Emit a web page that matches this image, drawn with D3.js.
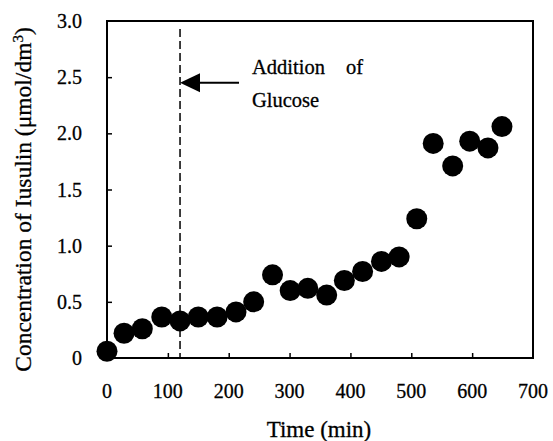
<!DOCTYPE html>
<html>
<head>
<meta charset="utf-8">
<script src="https://cdn.jsdelivr.net/npm/d3@7"></script>
<style>
  body { margin: 0; background: #fff; }
  svg { display: block; }
</style>
</head>
<body>
<svg id="chart" width="553" height="441"></svg>
<script>
var times = [0, 28, 58, 90, 120, 150, 181, 212, 241, 272, 301, 330, 361, 390, 420, 451, 480, 509, 536, 568, 596, 626, 649];
var insulin = [0.06, 0.22, 0.26, 0.365, 0.33, 0.365, 0.365, 0.41, 0.50, 0.74, 0.60, 0.62, 0.56, 0.69, 0.77, 0.86, 0.90, 1.24, 1.91, 1.71, 1.93, 1.87, 2.06];
var xTicks = [0, 100, 200, 300, 400, 500, 600, 700];
var yTicks = [0, 0.5, 1.0, 1.5, 2.0, 2.5, 3.0];
var glucoseTime = 120;
var arrowLevel = 2.45;

var margin = {top: 21, right: 20, bottom: 83, left: 107},
    width = 553 - margin.left - margin.right,
    height = 441 - margin.top - margin.bottom;

var font = "'Liberation Serif', 'Times New Roman', serif";

var x = d3.scaleLinear().domain([0, 700]).range([0, width]);
var y = d3.scaleLinear().domain([0, 3]).range([height, 0]);

var svg = d3.select("#chart");
var g = svg.append("g")
    .attr("transform", "translate(" + margin.left + "," + margin.top + ")");

// inward ticks, labels drawn separately
var xAxis = d3.axisTop(x).tickValues(xTicks.slice(1, -1)).tickSize(5).tickFormat("");
var yAxis = d3.axisRight(y).tickValues(yTicks.slice(1, -1)).tickSize(5).tickFormat("");

g.append("g")
    .attr("transform", "translate(0," + height + ")")
    .call(xAxis)
    .call(function(s){ s.select(".domain").remove(); s.selectAll("line").attr("stroke", "#000").attr("stroke-width", 1.5); });

g.append("g")
    .call(yAxis)
    .call(function(s){ s.select(".domain").remove(); s.selectAll("line").attr("stroke", "#000").attr("stroke-width", 1.5); });

// frame
g.append("rect")
    .attr("x", 0).attr("y", 0)
    .attr("width", width).attr("height", height)
    .attr("fill", "none")
    .attr("stroke", "#000")
    .attr("stroke-width", 2);

// tick labels
g.selectAll(".xlab")
  .data(xTicks)
  .enter().append("text")
    .attr("class", "xlab")
    .attr("x", function(d){ return x(d); })
    .attr("y", height + 40)
    .attr("text-anchor", "middle")
    .attr("font-family", font)
    .attr("font-size", "20px")
    .attr("stroke", "#000").attr("stroke-width", 0.3)
    .text(function(d){ return d; });

g.selectAll(".ylab")
  .data(yTicks)
  .enter().append("text")
    .attr("class", "ylab")
    .attr("x", -25)
    .attr("y", function(d){ return y(d); })
    .attr("dy", "0.35em")
    .attr("text-anchor", "end")
    .attr("font-family", font)
    .attr("font-size", "20px")
    .attr("stroke", "#000").attr("stroke-width", 0.3)
    .text(function(d){ return d === 0 ? "0" : d.toFixed(1); });

// axis titles
g.append("text")
    .attr("x", width / 2 - 1)
    .attr("y", height + 79)
    .attr("text-anchor", "middle")
    .attr("font-family", font)
    .attr("font-size", "23px")
    .attr("stroke", "#000").attr("stroke-width", 0.3)
    .text("Time (min)");

var yt = svg.append("text")
    .attr("transform", "translate(31," + (margin.top + height / 2 + 10) + ") rotate(-90)")
    .attr("text-anchor", "middle")
    .attr("font-family", font)
    .attr("font-size", "23.5px")
    .attr("stroke", "#000").attr("stroke-width", 0.3);
yt.append("tspan").text("Concentration of Iusulin (\u03bcmol/dm");
yt.append("tspan").attr("baseline-shift", "super").attr("font-size", "15px").text("3");
yt.append("tspan").text(")");

// glucose addition marker
g.append("line")
    .attr("x1", x(glucoseTime)).attr("x2", x(glucoseTime))
    .attr("y1", 8).attr("y2", height)
    .attr("stroke", "#000")
    .attr("stroke-width", 1.5)
    .attr("stroke-dasharray", "8,4");

var ax = x(glucoseTime), ay = y(arrowLevel);
g.append("path")
    .attr("d", "M" + ax + "," + ay + " L" + (ax + 20) + "," + (ay - 9.5) + " L" + (ax + 20) + "," + (ay + 9.5) + " Z")
    .attr("fill", "#000");
g.append("line")
    .attr("x1", ax + 18).attr("x2", ax + 59)
    .attr("y1", ay).attr("y2", ay)
    .attr("stroke", "#000")
    .attr("stroke-width", 2);

var note = g.append("text")
    .attr("font-family", font)
    .attr("font-size", "20.5px")
    .attr("stroke", "#000").attr("stroke-width", 0.3);
note.append("tspan").attr("x", ax + 72).attr("y", ay - 9).text("Addition");
note.append("tspan").attr("x", ax + 183).attr("y", ay - 9).attr("text-anchor", "end").text("of");
note.append("tspan").attr("x", ax + 72).attr("y", ay + 24).text("Glucose");

// data points
g.selectAll(".dot")
  .data(times.map(function(t, i){ return {t: t, v: insulin[i]}; }))
  .enter().append("circle")
    .attr("class", "dot")
    .attr("cx", function(d){ return x(d.t); })
    .attr("cy", function(d){ return y(d.v); })
    .attr("r", 10.5)
    .attr("fill", "#000");
</script>
</body>
</html>
